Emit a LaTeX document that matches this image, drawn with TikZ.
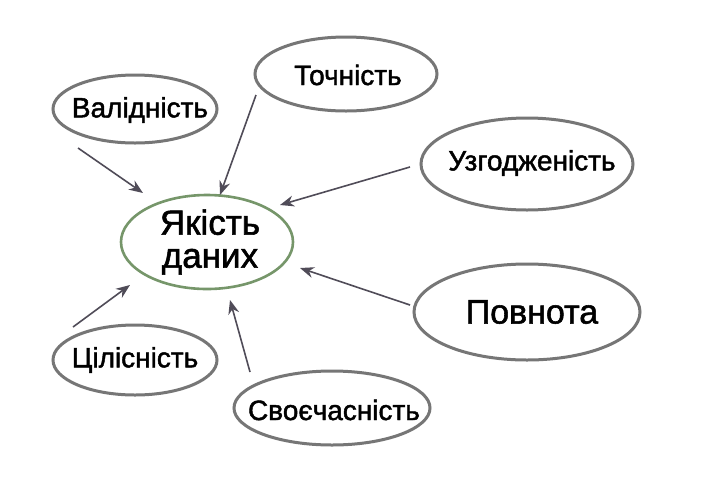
\documentclass[tikz,border=0pt]{standalone}
\usepackage{fontspec}
\setmainfont{Liberation Sans}[FakeBold=1.6]
\usetikzlibrary{shapes.geometric,arrows.meta}
\definecolor{ringgray}{RGB}{118,118,118}
\definecolor{ringgreen}{RGB}{118,150,106}
\definecolor{arrowc}{RGB}{80,76,88}
\tikzset{
  label/.style={inner sep=0pt, font=\fontsize{28}{31}\selectfont, text=black, align=center},
  ring/.style={draw=ringgray, line width=3pt},
  hubring/.style={draw=ringgreen, line width=2.6pt},
  link/.style={draw=arrowc, line width=1.6pt, -{Stealth[length=14pt,width=11pt]}}
}
\begin{document}
\begin{tikzpicture}[x=1pt,y=-1pt]
\useasboundingbox (0,0) rectangle (701,499);
\fill[white] (0,0) rectangle (701,499);
\node[label, font=\fontsize{35}{36}\selectfont] (hub) at (210,242) {Якість\\[-3pt]даних};
\node[label] (val) at (140,110) {Валідність};
\node[label] (toc) at (348,75) {Точність};
\node[label] (uzg) at (532,163) {Узгодженість};
\node[label, font=\fontsize{34}{36}\selectfont] (pov) at (532,312) {Повнота};
\node[label] (cil) at (135,360) {Цілісність};
\node[label] (svo) at (334,410) {Своєчасність};
\draw[hubring] (207,242) ellipse [x radius=86, y radius=47];
\draw[ring] (135,109) ellipse [x radius=82, y radius=34];
\draw[ring] (346,74) ellipse [x radius=91, y radius=37];
\draw[ring] (527,164) ellipse [x radius=106, y radius=46];
\draw[ring] (527,312) ellipse [x radius=113, y radius=48];
\draw[ring] (135,360) ellipse [x radius=82, y radius=35];
\draw[ring] (332,408) ellipse [x radius=98, y radius=37];
\coordinate (s1) at (78,148);  \coordinate (e1) at (143,193);
\coordinate (s2) at (256,95);  \coordinate (e2) at (220,195);
\coordinate (s3) at (410,167); \coordinate (e3) at (280,205);
\coordinate (s4) at (410,305); \coordinate (e4) at (300,268);
\coordinate (s5) at (250,372); \coordinate (e5) at (230,300);
\coordinate (s6) at (73,327);  \coordinate (e6) at (130,285);
\draw[link] (s1) -- (e1);
\draw[link] (s2) -- (e2);
\draw[link] (s3) -- (e3);
\draw[link] (s4) -- (e4);
\draw[link] (s5) -- (e5);
\draw[link] (s6) -- (e6);
\end{tikzpicture}
\end{document}
